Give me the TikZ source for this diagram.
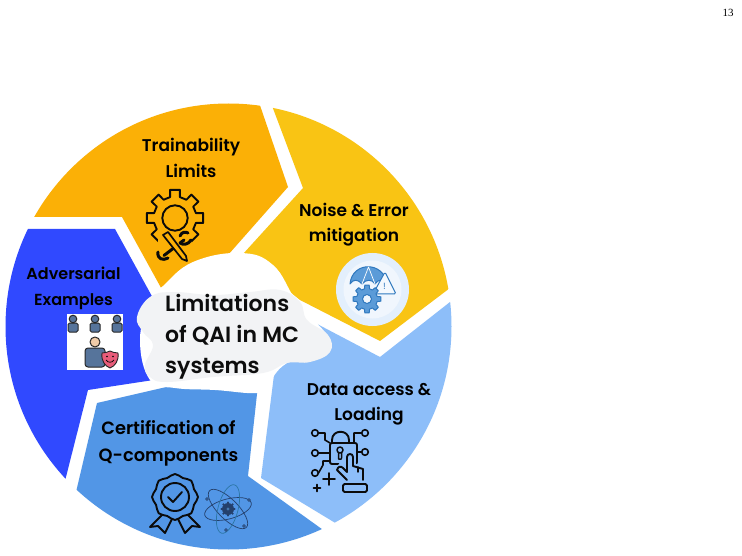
\documentclass[tikz,border=0pt]{standalone}
\usepackage{fontspec}
\setmainfont{Poppins}[BoldFont={Poppins SemiBold}]
\newfontfamily\pagefont{Liberation Serif}
\usetikzlibrary{calc}
\definecolor{segOrange}{HTML}{FBB006}
\definecolor{segYellow}{HTML}{F9C414}
\definecolor{segSky}{HTML}{8DBEF9}
\definecolor{segMid}{HTML}{5296E6}
\definecolor{segBlue}{HTML}{3049FF}
\definecolor{cloudGrey}{HTML}{F2F3F5}
\definecolor{iconLine}{HTML}{0B0B0B}
\definecolor{softBlue}{HTML}{5B9BD8}
\definecolor{softEdge}{HTML}{2F78BE}
\definecolor{paleDisc}{HTML}{E3EFFC}
\definecolor{slatePerson}{HTML}{56749B}
\definecolor{skinTone}{HTML}{EFCBA8}
\definecolor{shieldPink}{HTML}{E85C7A}
\definecolor{atomDark}{HTML}{24406C}
\definecolor{atomTeal}{HTML}{2F8FBF}
\tikzset{
  label text/.style={font=\bfseries\fontsize{17}{25.5}\selectfont,align=center,text=black,inner sep=0pt},
  hub text/.style={font=\bfseries\fontsize{22}{31}\selectfont,align=left,text=black!95,inner sep=0pt},
  icon/.style={draw=iconLine,line width=1.9pt,line join=round,line cap=round},
  thin icon/.style={draw=softEdge,line width=1pt,line join=round},
  person/.style={draw=black!85,fill=slatePerson,line width=1pt,line join=round},
  orbit/.style={draw=atomDark,line width=.7pt}
}
\begin{document}
\begin{tikzpicture}[x=1pt,y=-1pt]
\useasboundingbox (0,0) rectangle (742,556);
\fill[white] (0,0) rectangle (742,556);

% Five segments of the ring, cut out of one disc
\begin{scope}
  \clip (228.5,326.5) circle[radius=223pt];
  \fill[segOrange] (0,217) -- (122,217) -- (165,295) -- (228,255) -- (288,187) -- (241,50) -- (0,50) -- cycle;
  \fill[segYellow] (251,50) -- (303,188) -- (243,254) -- (300,300) -- (380,341) -- (520,235) -- (520,50) -- cycle;
  \fill[segSky] (520,247) -- (380,357) -- (300,315) -- (274,375) -- (261,478) -- (380,550) -- (520,550) -- cycle;
  \fill[segMid] (60,560) -- (97,403) -- (175,385) -- (258,385) -- (248,476) -- (365,560) -- cycle;
  \fill[segBlue] (-20,229) -- (115,229) -- (165,320) -- (160,379) -- (88,390) -- (45,560) -- (-20,560) -- cycle;
\end{scope}

% Central cloud
\fill[white] plot[smooth cycle,tension=.7] coordinates {(150,300) (163,286) (193,262) (240,253) (273,265) (297,302) (330,345) (287,363) (268,384) (258,393) (215,390) (175,388) (150,380) (140,340)};
\fill[cloudGrey] plot[smooth cycle,tension=.7] coordinates {(137,317) (150,297) (173,292) (213,295) (250,292) (280,290) (300,302) (307,320) (328,335) (330,352) (310,362) (287,363) (263,373) (213,377) (167,382) (150,377) (145,365) (153,345) (143,332)};

% Page number
\node[font=\pagefont\fontsize{11}{13}\selectfont,text=black,inner sep=0pt] (pageno) at (728,13) {13};

% Labels
\node[label text] (trainability) at (191,158) {Trainability\\Limits};
\node[label text] (noise) at (354,224.5) {Noise \& Error\\mitigation};
\node[label text,font=\bfseries\fontsize{16}{26}\selectfont] (adversarial) at (73.5,288) {Adversarial\\Examples};
\node[label text] (data) at (369,404.5) {Data access \&\\Loading};
\node[label text,font=\bfseries\fontsize{17.8}{27}\selectfont] (certification) at (168.5,443) {Certification of\\Q-components};
\node[hub text,anchor=west] (hub) at (165,337) {Limitations\\of QAI in MC\\systems};

% Gear with crossed pencil and wrench
\begin{scope}[shift={(175,218)}]
  \draw[icon] (-13:21.5) \foreach \a in {0,45,...,315} {
      -- ({\a-13}:21.5) -- ({\a-10}:28.5) -- ({\a+10}:28.5) -- ({\a+13}:21.5)
    } -- cycle;
  \draw[icon] (0,0) circle[radius=12.7pt];
\end{scope}
\fill[segOrange] (158,234) -- (170,232) -- (191,233) -- (192,262) -- (158,262) -- cycle;
\draw[icon,line width=3pt] (177,245.5) -- (164,255.5);
\draw[icon,line width=3pt] (184,240) -- (180,243);
\draw[icon,line width=3pt] (158,252) .. controls (157,259) and (163,261) .. (168,258);
\draw[icon,line width=3pt] (180,236) .. controls (182,231) and (186,232) .. (188,233);
\draw[icon,line width=3pt] (191,240) .. controls (188,245) and (183,245) .. (180,243);
\fill[segOrange] (163,235) -- (168,232) -- (187,256) -- (187,261) -- (182,259) -- cycle;
\draw[icon,line width=1.7pt] (163,235) -- (168,232) -- (186,256) -- (187,261) -- (182,259) -- cycle;

% Umbrella, gear and warning sign on a pale disc
\fill[paleDisc] (372.5,289.5) circle[radius=36.5pt];
\fill[white!45!paleDisc] (372.5,289.5) circle[radius=29pt];
\filldraw[thin icon,fill=softBlue] (350,284) .. controls (352,261) and (384,261) .. (387,284)
  .. controls (383,279) and (378,279) .. (375,284) .. controls (372,279) and (366,279) .. (362,284)
  .. controls (358,279) and (353,279) .. (350,284) -- cycle;
\draw[draw=white,line width=.7pt] (368.5,267) -- (362,284) (368.5,267) -- (375,284);
\draw[thin icon,fill=white!60!paleDisc,rounded corners=1.5pt] (385,272) -- (396,294) -- (373,294) -- cycle;
\node[font=\fontsize{9}{9}\selectfont,text=softEdge,inner sep=0pt] (warn) at (384.5,286) {!};
\begin{scope}[shift={(367,299)}]
  \filldraw[thin icon,fill=softBlue,even odd rule] (-14:10.5) \foreach \a in {0,45,...,315} {
      -- ({\a-14}:10.5) -- ({\a-9}:14) -- ({\a+9}:14) -- ({\a+14}:10.5)
    } -- cycle (0,0) circle[radius=4.5pt];
\end{scope}

% Card with three bystanders and a shielded figure
\fill[white] (67,314) rectangle (123,370);
\foreach \x in {73,95,117} {
  \filldraw[person,rounded corners=1.5pt] (\x-5,332) -- (\x-5,323) -- (\x+5,323) -- (\x+5,332) -- cycle;
  \filldraw[person] (\x,319) circle[radius=3.8pt];
}
\filldraw[person,rounded corners=3pt] (85,367) -- (85,348) -- (105,348) -- (105,367) -- cycle;
\filldraw[person,fill=skinTone] (95,342) circle[radius=5pt];
\filldraw[draw=black!85,fill=shieldPink,line width=.9pt,line join=round] (102,353) .. controls (105,353) and (108,352) .. (110,351) .. controls (112,352) and (115,353) .. (118,353) .. controls (119,361) and (115,366) .. (110,368) .. controls (105,366) and (101,361) .. (102,353) -- cycle;
\draw[black,line width=.7pt] (106,360) .. controls (108,363) and (112,363) .. (114,360);
\fill[black] (107,356.5) circle[radius=.9pt] (113,356.5) circle[radius=.9pt];

% Circuit lock with pointing hand
\draw[icon] (332,443) -- (332,440) .. controls (332,429) and (349,429) .. (349,440) -- (349,443);
\draw[icon,rounded corners=2pt] (330,443) rectangle (357,464);
\draw[icon,line width=1.5pt] (340,450) circle[radius=3pt] (338.5,453) -- (338.5,459) -- (341.5,459) -- (341.5,453);
\draw[icon,line width=1.6pt] (315,433) circle[radius=3.3pt] (315,453) circle[radius=3.3pt] (315,473) circle[radius=3.3pt]
  (365,433) circle[radius=3.3pt] (365,452) circle[radius=3.3pt];
\draw[icon,line width=1.6pt] (318.5,433) -- (325,433) -- (325,440) -- (330,443) (318.5,453) -- (330,453)
  (318.5,473) -- (323,465) -- (323,461) -- (330,461) (361.5,433) -- (354,433) -- (354,443) (361.5,452) -- (357,452);
\fill[segSky] (346,453) -- (354,453) -- (356,464) -- (366,468) -- (366,482) -- (346,482) -- (335,470) -- cycle;
\draw[icon] (347,480) -- (337,470) .. controls (338,466) and (341,466) .. (343,468) -- (347,472) -- (347,457) .. controls (347,453) and (353,453) .. (353,457)
  -- (353,466) -- (363,469) -- (363,480);
\draw[icon,line width=1.4pt] (358,467) -- (358,472);
\draw[icon,rounded corners=1.5pt] (343,484) rectangle (367,492);
\draw[icon] (323,479) -- (335,479) (329,473) -- (329,485) (313.5,488) -- (320.5,488) (317,484.5) -- (317,491.5);

% Rosette with check mark
\begin{scope}[shift={(175,497)}]
  \draw[icon] plot[smooth cycle,tension=.7] coordinates {
    (0:23) (22.5:20.5) (45:23) (67.5:20.5) (90:23) (112.5:20.5) (135:23) (157.5:20.5)
    (180:23) (202.5:20.5) (225:23) (247.5:20.5) (270:23) (292.5:20.5) (315:23) (337.5:20.5)};
  \draw[icon] (0,0) circle[radius=14pt];
  \draw[icon] (-7,0) -- (-2,5) -- (7,-5);
  \draw[icon] (-13,18) -- (-25,30) -- (-17,29) -- (-10,36) -- (-3,22);
  \draw[icon] (13,18) -- (25,30) -- (17,29) -- (10,36) -- (3,22);
\end{scope}

% Atom with a small cog at its nucleus
\begin{scope}[shift={(228,509)}]
  \draw[orbit,rotate=15] (0,0) ellipse[x radius=24pt,y radius=10pt];
  \draw[orbit,rotate=-45] (0,0) ellipse[x radius=26pt,y radius=10pt];
  \draw[orbit,draw=atomTeal!70!atomDark,rotate=75] (0,0) ellipse[x radius=25pt,y radius=10pt];
  \foreach \a in {0,45,...,315} { \fill[atomDark] (\a:6.5) circle[radius=1.2pt]; }
  \fill[atomDark] (0,0) circle[radius=6pt];
  \fill[softBlue!60!atomDark] (0,0) circle[radius=1.6pt];
  \draw[orbit,fill=segMid] (-21,-10) circle[radius=1.3pt] (21,-9) circle[radius=1.3pt] (-2,21) circle[radius=1.3pt] (16,17) circle[radius=1.3pt];
\end{scope}
\end{tikzpicture}
\end{document}
